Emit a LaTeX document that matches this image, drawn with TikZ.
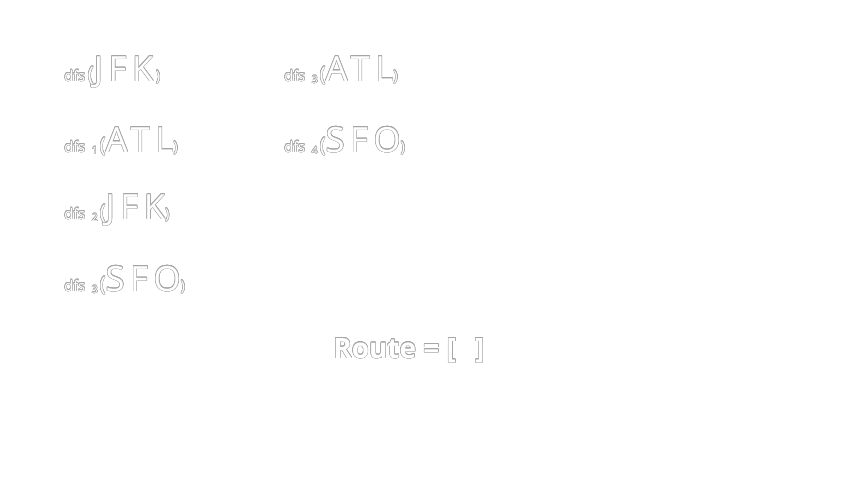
\documentclass[tikz,border=0pt]{standalone}
\usepackage{fontspec}
\setmainfont{Open Sans}
\usepackage{contour}
\usetikzlibrary{positioning}
\contourlength{0.35pt}
\contournumber{16}

\newcommand{\smallfs}{\fontsize{11}{13}\selectfont}
\newcommand{\parfs}{\fontsize{15}{17}\selectfont}
\newcommand{\bigfs}{\fontsize{26}{31}\selectfont\addfontfeatures{LetterSpace=16}}
% one call label: dfs_k(CODE)
\newcommand{\dfscall}[2]{\contour{black!35}{\smallfs dfs\hspace{5pt}\textsubscript{#1}\hspace{1pt}\parfs(\bigfs #2\smallfs )}}

\tikzset{
  call/.style={anchor=base west, inner sep=0pt, text=white},
  route/.style={anchor=base west, inner sep=0pt, text=white, font=\fontsize{21}{25}\selectfont\bfseries}
}

\begin{document}
\begin{tikzpicture}[x=0.75pt,y=-0.75pt]
    \fill[white] (0,0) rectangle (853,480);
    \useasboundingbox (0,0) rectangle (853,480);
    % left column
    \node[call] (dfsJFK) at (64,81) {\contour{black!35}{\smallfs dfs\hspace{2pt}\parfs(\bigfs JFK\smallfs\hspace{2pt})}};
    \node[call] (dfsATLone) at (64,152) {\dfscall{1}{ATL}};
    \node[call] (dfsJFKtwo) at (64,219) {\dfscall{2}{JFK}};
    \node[call] (dfsSFOthree) at (64,291) {\dfscall{3}{SFO}};
    % right column
    \node[call] (dfsATLthree) at (284,81) {\dfscall{3}{ATL}};
    \node[call] (dfsSFOfour) at (284,152) {\dfscall{4}{SFO}};
    % result
    \node[route] (route) at (333,358) {\contour{black!35}{Route = [\ \ \,]}};
\end{tikzpicture}
\end{document}
